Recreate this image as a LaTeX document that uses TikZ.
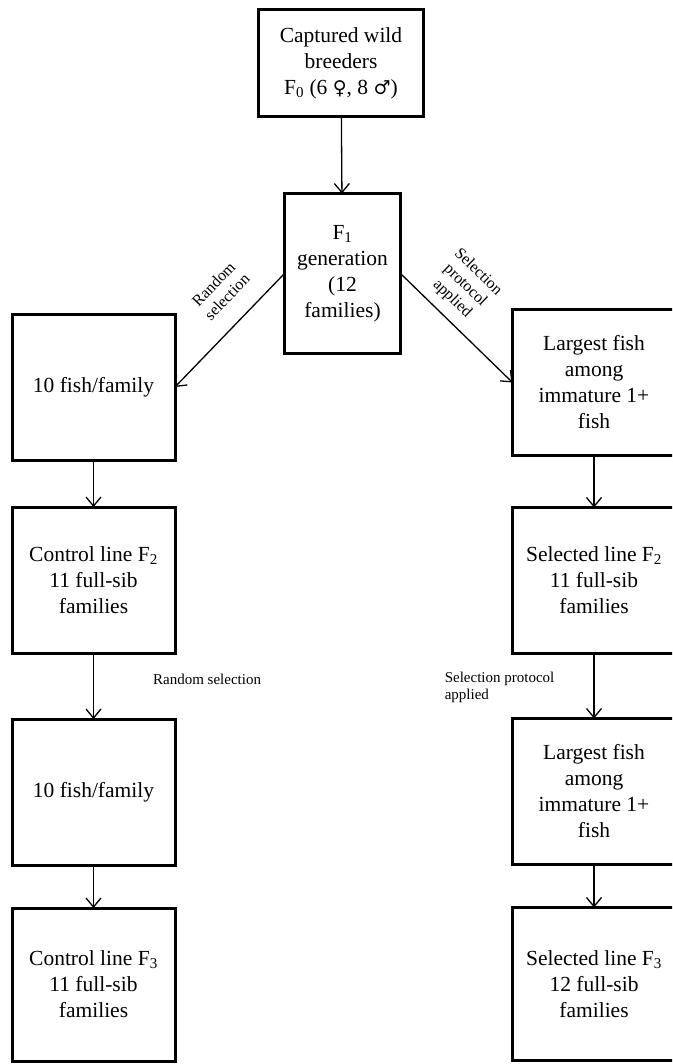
\documentclass[tikz,border=0pt]{standalone}
\usepackage{fontspec}
\setmainfont{Liberation Serif}
\newfontfamily\symfont{DejaVu Serif}
\usetikzlibrary{arrows.meta, positioning}

\tikzstyle{stage} = [rectangle, draw=black, line width=3pt, minimum width=163pt, minimum height=146pt, inner sep=0pt, outer sep=0pt, align=center, font=\fontsize{21.5}{26}\selectfont]
\tikzstyle{arrow} = [line width=1.3pt, -{Straight Barb[length=9pt,width=15pt]}]
\tikzstyle{note} = [inner sep=0pt, font=\fontsize{15}{17}\selectfont]
\tikzstyle{slanted} = [inner sep=0pt, font=\fontsize{16}{18.5}\selectfont, sloped, align=center]

\begin{document}
\begin{tikzpicture}[x=1pt, y=-1pt]
\clip (0,0) rectangle (672,1064);

% Founders
\node (f0) [stage, minimum width=165pt, minimum height=107pt] at (341,63) {Captured wild\\breeders\\F\textsubscript{0} (6 {\symfont\fontsize{19}{26}\selectfont ♀}, 8 {\symfont\fontsize{19}{26}\selectfont ♂})};

\node (f1) [stage, minimum width=116pt, minimum height=160pt, below=77pt of f0, xshift=1.5pt] {F\textsubscript{1}\\generation\\(12\\families)};

% Control line
\node (c1) [stage] at (93.5,387) {10 fish/family};

\node (c2) [stage, below=47pt of c1] {Control line F\textsubscript{2}\\11 full-sib\\families};

\node (c3) [stage, below=66pt of c2] {10 fish/family};

\node (c4) [stage, below=43pt of c3, minimum height=153pt] {Control line F\textsubscript{3}\\11 full-sib\\families};

% Selected line
\node (s1) [stage] at (594,382.5) {Largest fish\\among\\immature 1+\\fish};

\node (s2) [stage, below=52pt of s1] {Selected line F\textsubscript{2}\\11 full-sib\\families};

\node (s3) [stage, below=65pt of s2] {Largest fish\\among\\immature 1+\\fish};

\node (s4) [stage, below=43pt of s3, minimum height=153pt] {Selected line F\textsubscript{3}\\12 full-sib\\families};

% Arrows
\draw [arrow] (f0) -- (f1);
\draw [arrow] (f1.west) -- node (randlbl) [slanted, above=19pt, pos=0.36] {Random\\selection} (c1.east);
\draw [arrow] (f1.east) -- node (protlbl) [slanted, above=10pt, pos=0.35] {Selection\\protocol\\applied} (s1.west);
\draw [arrow] (c1) -- (c2);
\draw [arrow] (c2) -- node (randmid) [note, right=59pt, pos=0.4] {Random selection} (c3);
\draw [arrow] (c3) -- (c4);
\draw [arrow] (s1) -- (s2);
\draw [arrow] (s2) -- node (protmid) [note, left=39pt, pos=0.52, align=left] {Selection protocol\\applied} (s3);
\draw [arrow] (s3) -- (s4);

\end{tikzpicture}
\end{document}
